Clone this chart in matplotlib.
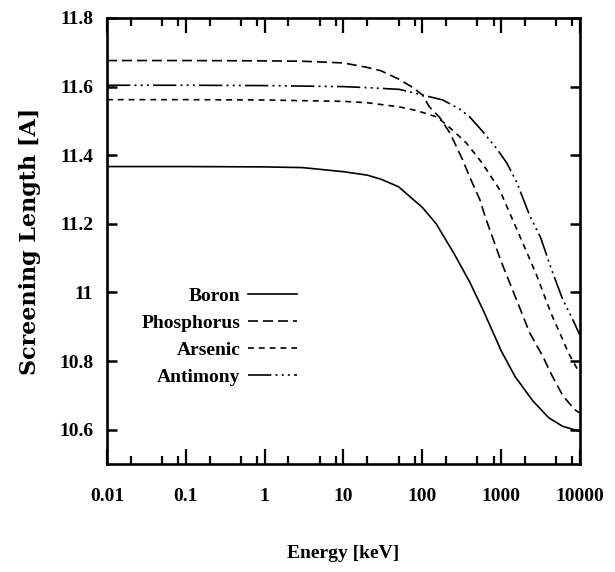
import matplotlib
matplotlib.use("Agg")
import matplotlib.pyplot as plt
from matplotlib.ticker import LogLocator, NullFormatter, FixedLocator
import numpy as np

# energies in keV, screening lengths in Angstrom
e_boron = [0.01, 0.1, 1, 3, 10, 20, 30, 50, 100, 150, 250, 400, 600, 1000,
           1500, 2500, 4000, 6000, 10000]
sl_boron = [11.367, 11.367, 11.366, 11.364, 11.352, 11.342, 11.330, 11.308,
            11.248, 11.200, 11.115, 11.030, 10.945, 10.830, 10.755, 10.685,
            10.635, 10.610, 10.595]

e_phos = [0.01, 0.1, 1, 3, 10, 20, 30, 50, 75, 100, 123, 166, 224, 324, 398,
          537, 646, 1000, 1622, 2291, 3388, 4365, 6026, 8511, 10000]
sl_phos = [11.676, 11.676, 11.675, 11.674, 11.669, 11.656, 11.646, 11.622,
           11.598, 11.576, 11.541, 11.510, 11.465, 11.387, 11.337, 11.270,
           11.212, 11.090, 10.970, 10.883, 10.813, 10.760, 10.700, 10.659,
           10.648]

e_arsenic = [0.01, 0.1, 1, 10, 20, 51, 85, 151, 200, 295, 363, 562, 759, 955,
             1230, 2000, 2818, 3890, 4467, 6026, 7079, 9333, 10000]
sl_arsenic = [11.562, 11.562, 11.561, 11.557, 11.553, 11.541, 11.530, 11.512,
              11.490, 11.455, 11.435, 11.380, 11.335, 11.300, 11.241, 11.130,
              11.050, 10.965, 10.930, 10.863, 10.825, 10.775, 10.765]

e_antimony = [0.01, 0.1, 1, 10, 20, 51, 91, 182, 295, 398, 589, 871, 1175,
              1585, 2291, 3162, 4467, 6026, 8128, 10000]
sl_antimony = [11.604, 11.604, 11.603, 11.600, 11.597, 11.592, 11.578, 11.561,
               11.535, 11.512, 11.468, 11.420, 11.378, 11.320, 11.225, 11.160,
               11.060, 10.980, 10.920, 10.875]

labels = ["Boron", "Phosphorus", "Arsenic", "Antimony"]
y_ticks = [10.6, 10.8, 11.0, 11.2, 11.4, 11.6, 11.8]
y_ticklabels = ["10.6", "10.8", "11", "11.2", "11.4", "11.6", "11.8"]
x_ticks = [0.01, 0.1, 1, 10, 100, 1000, 10000]
x_ticklabels = ["0.01", "0.1", "1", "10", "100", "1000", "10000"]

serif = ["Liberation Serif", "DejaVu Serif"]
plt.rcParams["font.family"] = serif
plt.rcParams["font.weight"] = "bold"

fig = plt.figure(figsize=(6.15, 5.72), dpi=100)
ax = fig.add_axes([107 / 615, 108 / 572, 473 / 615, 446 / 572])

lw = 1.2
ax.plot(e_boron, sl_boron, color="black", lw=lw, ls="-", label=labels[0])
ax.plot(e_phos, sl_phos, color="black", lw=lw, ls=(0, (6, 3)), label=labels[1])
ax.plot(e_arsenic, sl_arsenic, color="black", lw=lw, ls=(0, (3.5, 3)),
        label=labels[2])
ax.plot(e_antimony, sl_antimony, color="black", lw=lw,
        ls=(0, (14, 2.5, 1.2, 2.5, 1.2, 2.5, 1.2, 2.5)), label=labels[3])

ax.set_xscale("log")
ax.set_xlim(0.01, 10000)
ax.set_ylim(10.5, 11.8)

ax.xaxis.set_major_locator(FixedLocator(x_ticks))
ax.set_xticklabels(x_ticklabels)
ax.xaxis.set_minor_locator(LogLocator(base=10, subs=(2, 5, 8), numticks=50))
ax.xaxis.set_minor_formatter(NullFormatter())
ax.set_yticks(y_ticks)
ax.set_yticklabels(y_ticklabels)

ax.tick_params(axis="x", which="major", direction="in", length=11, width=1.6,
               top=True, pad=17, labelsize=14)
ax.tick_params(axis="x", which="minor", direction="in", length=5.5, width=1.6,
               top=True)
ax.tick_params(axis="y", which="major", direction="in", length=7.5, width=1.8,
               right=True, pad=10, labelsize=14)
for sp in ax.spines.values():
    sp.set_linewidth(1.9)

ax.set_xlabel("Energy [keV]", fontsize=14, fontweight="bold", labelpad=29)
ax.set_ylabel("Screening Length [A]", fontsize=16, fontweight="bold",
              family=["DejaVu Serif"], labelpad=13)

leg = ax.legend(loc="upper right", bbox_to_anchor=(0.422, 0.418),
                frameon=False, markerfirst=False, borderpad=0,
                handlelength=2.5, handletextpad=0.4, labelspacing=0.48,
                prop={"size": 14, "weight": "bold"})

fig.savefig("out.png", dpi=100)
